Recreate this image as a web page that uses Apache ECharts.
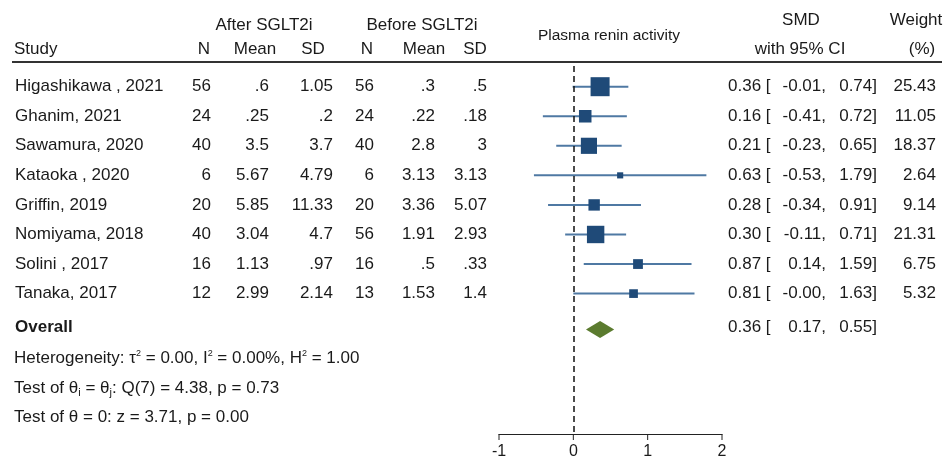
<!DOCTYPE html>
<html><head><meta charset="utf-8">
<script src="https://cdn.jsdelivr.net/npm/echarts@6/dist/echarts.min.js"></script>
<style>html,body{margin:0;padding:0;background:#fff}#c{width:948px;height:461px}</style>
</head><body><div id="c"></div><script>
// ---- data ----
const studies = ['Higashikawa , 2021','Ghanim, 2021','Sawamura, 2020','Kataoka , 2020','Griffin, 2019','Nomiyama, 2018','Solini , 2017','Tanaka, 2017'];
const nAfter = ['56','24','40','6','20','40','16','12'];
const meanAfter = ['.6','.25','3.5','5.67','5.85','3.04','1.13','2.99'];
const sdAfter = ['1.05','.2','3.7','4.79','11.33','4.7','.97','2.14'];
const nBefore = ['56','24','40','6','20','56','16','13'];
const meanBefore = ['.3','.22','2.8','3.13','3.36','1.91','.5','1.53'];
const sdBefore = ['.5','.18','3','3.13','5.07','2.93','.33','1.4'];
const smd = [0.36,0.16,0.21,0.63,0.28,0.30,0.87,0.81];
const ciLow = [-0.01,-0.41,-0.23,-0.53,-0.34,-0.11,0.14,-0.00];
const ciHigh = [0.74,0.72,0.65,1.79,0.91,0.71,1.59,1.63];
const weight = [25.43,11.05,18.37,2.64,9.14,21.31,6.75,5.32];
const overallSmd = 0.36, overallLow = 0.17, overallHigh = 0.55;
const xTicks = [-1,0,1,2];
const footerLines = [
  'Heterogeneity: τ{sup|2} = 0.00, I{sup|2} = 0.00%, H{sup|2} = 1.00',
  'Test of θ{sub|i} = θ{sub|j}: Q(7) = 4.38, p = 0.73',
  'Test of θ = 0: z = 3.71, p = 0.00'
];

// ---- layout/style ----
const FONT = "'Liberation Sans', Arial, sans-serif";
const FS = 17;
const TXT = '#1a1a1a';
const Y_MIN = -0.7, Y_MAX = 11.75;
const OVERALL_ROW = 8.15;
const FOOTER_ROW0 = 9.2;
const fmt = v => ((v < 0 || Object.is(v, -0)) ? '-' : '') + Math.abs(v).toFixed(2);

const rows = studies.map((s, i) => [i, smd[i], ciLow[i], ciHigh[i], weight[i], i]);

function txt(x, y, text, align, extra) {
  return Object.assign({type: 'text', x: x, y: y, silent: true,
    style: Object.assign({text: text, align: align || 'left', verticalAlign: 'middle',
      fontSize: FS, fontFamily: FONT, fill: TXT}, extra || {})});
}

const chart = echarts.init(document.getElementById('c'), null, {renderer: 'canvas'});
chart.setOption({
  animation: false,
  backgroundColor: '#fff',
  grid: {left: 499, right: 226, top: 66, bottom: 27, containLabel: false},
  xAxis: {type: 'value', position: 'bottom', min: xTicks[0], max: xTicks[xTicks.length - 1], interval: 1,
    axisLine: {show: true, onZero: false, lineStyle: {color: '#222', width: 1}},
    axisTick: {show: false},
    axisLabel: {fontSize: 16, fontFamily: FONT, color: TXT, margin: 10},
    splitLine: {show: false}},
  yAxis: {type: 'value', inverse: true, min: Y_MIN, max: Y_MAX, show: false},
  graphic: {elements: [
    txt(264, 25, 'After SGLT2i', 'center'),
    txt(422, 25, 'Before SGLT2i', 'center'),
    txt(14, 49, 'Study', 'left'),
    txt(204, 49, 'N', 'center'),
    txt(255, 49, 'Mean', 'center'),
    txt(313, 49, 'SD', 'center'),
    txt(367, 49, 'N', 'center'),
    txt(424, 49, 'Mean', 'center'),
    txt(475, 49, 'SD', 'center'),
    txt(609, 36, 'Plasma renin activity', 'center', {fontSize: 15.5}),
    txt(801, 20, 'SMD', 'center'),
    txt(800, 49, 'with 95% CI', 'center'),
    txt(916, 20, 'Weight', 'center'),
    txt(922, 49, '(%)', 'center'),
    {type: 'line', silent: true, shape: {x1: 12, y1: 62, x2: 942, y2: 62}, style: {stroke: '#333', lineWidth: 2}}
  ]},
  series: [
    {
      type: 'custom', name: 'studies', clip: false, silent: true,
      encode: {x: [1, 2, 3], y: 0},
      data: rows,
      renderItem: function (params, api) {
        const row = api.value(0);
        const i = api.value(5);
        const y = api.coord([0, row])[1];
        const xl = api.coord([api.value(2), row])[0];
        const xh = api.coord([api.value(3), row])[0];
        const xc = api.coord([api.value(1), row])[0];
        const s = 3.77 * Math.sqrt(api.value(4));
        return {type: 'group', children: [
          {type: 'line', shape: {x1: xl, y1: y, x2: xh, y2: y}, style: {stroke: '#4f79a3', lineWidth: 2}},
          {type: 'rect', shape: {x: xc - s / 2, y: y - s / 2, width: s, height: s}, style: {fill: '#1f4a78'}},
          txt(15, y, studies[i], 'left'),
          txt(211, y, nAfter[i], 'right'),
          txt(269, y, meanAfter[i], 'right'),
          txt(333, y, sdAfter[i], 'right'),
          txt(374, y, nBefore[i], 'right'),
          txt(435, y, meanBefore[i], 'right'),
          txt(487, y, sdBefore[i], 'right'),
          txt(728, y, smd[i].toFixed(2) + ' [', 'left'),
          txt(826, y, fmt(ciLow[i]) + ',', 'right'),
          txt(877, y, fmt(ciHigh[i]) + ']', 'right'),
          txt(936, y, weight[i].toFixed(2), 'right')
        ]};
      },
      markLine: {silent: true, symbol: 'none', animation: false,
        label: {show: false},
        lineStyle: {type: [6, 4], color: '#111', width: 1.5},
        data: [{xAxis: 0}]}
    },
    {
      type: 'custom', name: 'ticks', clip: false, silent: true,
      encode: {x: 0},
      data: xTicks.map(v => [v]),
      renderItem: function (params, api) {
        const p = api.coord([api.value(0), Y_MAX]);
        return {type: 'line', shape: {x1: p[0], y1: p[1], x2: p[0], y2: p[1] + 6}, style: {stroke: '#222', lineWidth: 1}};
      }
    },
    {
      type: 'custom', name: 'overall', clip: false, silent: true,
      encode: {x: [1, 2, 3], y: 0},
      data: [[OVERALL_ROW, overallSmd, overallLow, overallHigh]],
      renderItem: function (params, api) {
        const row = api.value(0);
        const y = api.coord([0, row])[1];
        const yd = y + 2;
        const xl = api.coord([api.value(2), row])[0];
        const xh = api.coord([api.value(3), row])[0];
        const xc = api.coord([api.value(1), row])[0];
        const h = 8.5;
        const children = [
          {type: 'polygon', shape: {points: [[xl, yd], [xc, yd - h], [xh, yd], [xc, yd + h]]}, style: {fill: '#5b7b2f'}},
          txt(15, y, 'Overall', 'left', {fontWeight: 'bold'}),
          txt(728, y, api.value(1).toFixed(2) + ' [', 'left'),
          txt(826, y, fmt(api.value(2)) + ',', 'right'),
          txt(877, y, fmt(api.value(3)) + ']', 'right')
        ];
        footerLines.forEach(function (line, k) {
          const fy = api.coord([0, FOOTER_ROW0 + k])[1];
          children.push(txt(14, fy, line, 'left', {
            lineHeight: 20,
            rich: {
              sup: {fontSize: 9, fontFamily: FONT, fill: TXT, verticalAlign: 'top', lineHeight: 11},
              sub: {fontSize: 11, fontFamily: FONT, fill: TXT, verticalAlign: 'bottom', lineHeight: 12}
            }
          }));
        });
        return {type: 'group', children: children};
      }
    }
  ]
});
</script></body></html>
